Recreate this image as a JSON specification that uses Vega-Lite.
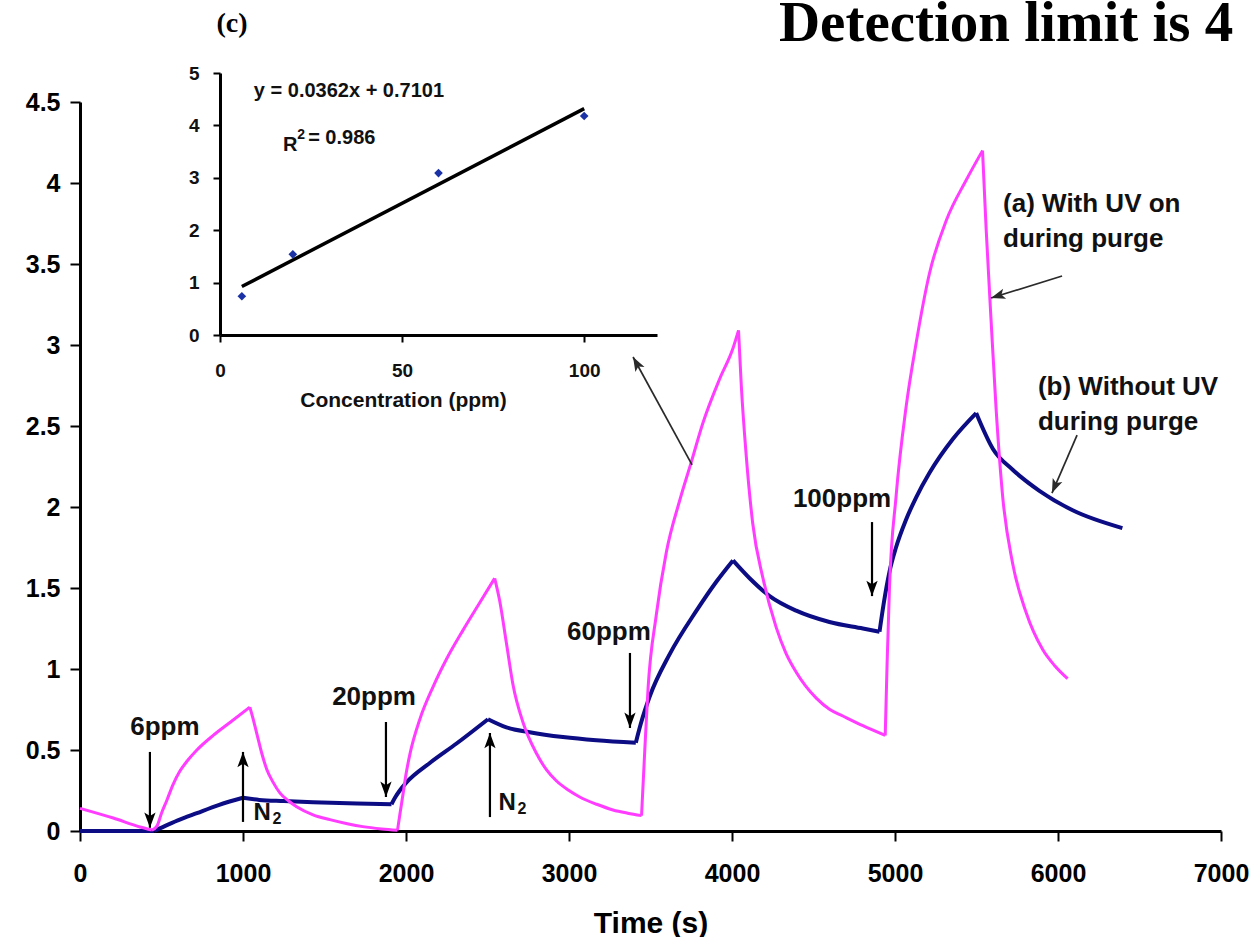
{
  "$schema": "https://vega.github.io/schema/vega-lite/v6.json",
  "width": 1141,
  "height": 729,
  "autosize": {"type": "none"},
  "padding": {"left": 80, "top": 102, "right": 39, "bottom": 106},
  "background": "white",
  "config": {"view": {"stroke": null}, "axis": {"grid": false}, "font": "Liberation Sans"},
  "datasets": {
    "curves": [
      {"series": "b", "seg": "b1", "t": 0, "v": 0}, {"series": "b", "seg": "b1", "t": 200, "v": 0}, {"series": "b", "seg": "b1", "t": 455, "v": 0},
      {"series": "b", "seg": "b2", "t": 455, "v": 0}, {"series": "b", "seg": "b2", "t": 520, "v": 0.03}, {"series": "b", "seg": "b2", "t": 600, "v": 0.065},
      {"series": "b", "seg": "b2", "t": 717, "v": 0.11}, {"series": "b", "seg": "b2", "t": 850, "v": 0.16}, {"series": "b", "seg": "b2", "t": 1000, "v": 0.205},
      {"series": "b", "seg": "b3", "t": 1000, "v": 0.205}, {"series": "b", "seg": "b3", "t": 1100, "v": 0.192}, {"series": "b", "seg": "b3", "t": 1250, "v": 0.185},
      {"series": "b", "seg": "b3", "t": 1430, "v": 0.178}, {"series": "b", "seg": "b3", "t": 1700, "v": 0.17}, {"series": "b", "seg": "b3", "t": 1911, "v": 0.165},
      {"series": "b", "seg": "b4", "t": 1911, "v": 0.165}, {"series": "b", "seg": "b4", "t": 1935, "v": 0.21}, {"series": "b", "seg": "b4", "t": 1962, "v": 0.25},
      {"series": "b", "seg": "b4", "t": 2003, "v": 0.3}, {"series": "b", "seg": "b4", "t": 2146, "v": 0.42}, {"series": "b", "seg": "b4", "t": 2310, "v": 0.54},
      {"series": "b", "seg": "b4", "t": 2503, "v": 0.69},
      {"series": "b", "seg": "b5", "t": 2503, "v": 0.69}, {"series": "b", "seg": "b5", "t": 2616, "v": 0.64}, {"series": "b", "seg": "b5", "t": 2759, "v": 0.61},
      {"series": "b", "seg": "b5", "t": 2963, "v": 0.58}, {"series": "b", "seg": "b5", "t": 3168, "v": 0.56}, {"series": "b", "seg": "b5", "t": 3410, "v": 0.545},
      {"series": "b", "seg": "b6", "t": 3410, "v": 0.545}, {"series": "b", "seg": "b6", "t": 3440, "v": 0.66}, {"series": "b", "seg": "b6", "t": 3495, "v": 0.83},
      {"series": "b", "seg": "b6", "t": 3617, "v": 1.09}, {"series": "b", "seg": "b6", "t": 3782, "v": 1.36}, {"series": "b", "seg": "b6", "t": 3905, "v": 1.54},
      {"series": "b", "seg": "b6", "t": 4006, "v": 1.67},
      {"series": "b", "seg": "b7", "t": 4006, "v": 1.67}, {"series": "b", "seg": "b7", "t": 4108, "v": 1.56}, {"series": "b", "seg": "b7", "t": 4231, "v": 1.45},
      {"series": "b", "seg": "b7", "t": 4394, "v": 1.36}, {"series": "b", "seg": "b7", "t": 4598, "v": 1.29}, {"series": "b", "seg": "b7", "t": 4803, "v": 1.25},
      {"series": "b", "seg": "b7", "t": 4905, "v": 1.23},
      {"series": "b", "seg": "b8", "t": 4905, "v": 1.23}, {"series": "b", "seg": "b8", "t": 4930, "v": 1.4}, {"series": "b", "seg": "b8", "t": 4966, "v": 1.6},
      {"series": "b", "seg": "b8", "t": 5006, "v": 1.75}, {"series": "b", "seg": "b8", "t": 5067, "v": 1.92}, {"series": "b", "seg": "b8", "t": 5130, "v": 2.06},
      {"series": "b", "seg": "b8", "t": 5211, "v": 2.21}, {"series": "b", "seg": "b8", "t": 5355, "v": 2.42}, {"series": "b", "seg": "b8", "t": 5498, "v": 2.58},
      {"series": "b", "seg": "b9", "t": 5498, "v": 2.58}, {"series": "b", "seg": "b9", "t": 5600, "v": 2.36}, {"series": "b", "seg": "b9", "t": 5722, "v": 2.23},
      {"series": "b", "seg": "b9", "t": 5886, "v": 2.1}, {"series": "b", "seg": "b9", "t": 6090, "v": 1.98}, {"series": "b", "seg": "b9", "t": 6395, "v": 1.87},
      {"series": "a", "seg": "a1", "t": 0, "v": 0.14}, {"series": "a", "seg": "a1", "t": 204, "v": 0.08}, {"series": "a", "seg": "a1", "t": 368, "v": 0.025},
      {"series": "a", "seg": "a1", "t": 441, "v": 0.006},
      {"series": "a", "seg": "a2", "t": 441, "v": 0.006}, {"series": "a", "seg": "a2", "t": 472, "v": 0.03}, {"series": "a", "seg": "a2", "t": 500, "v": 0.11},
      {"series": "a", "seg": "a2", "t": 533, "v": 0.19}, {"series": "a", "seg": "a2", "t": 570, "v": 0.285}, {"series": "a", "seg": "a2", "t": 613, "v": 0.37},
      {"series": "a", "seg": "a2", "t": 660, "v": 0.435}, {"series": "a", "seg": "a2", "t": 717, "v": 0.5}, {"series": "a", "seg": "a2", "t": 817, "v": 0.59},
      {"series": "a", "seg": "a2", "t": 920, "v": 0.67}, {"series": "a", "seg": "a2", "t": 1042, "v": 0.765},
      {"series": "a", "seg": "a3", "t": 1042, "v": 0.765}, {"series": "a", "seg": "a3", "t": 1060, "v": 0.7}, {"series": "a", "seg": "a3", "t": 1085, "v": 0.6},
      {"series": "a", "seg": "a3", "t": 1115, "v": 0.48}, {"series": "a", "seg": "a3", "t": 1146, "v": 0.38}, {"series": "a", "seg": "a3", "t": 1185, "v": 0.3},
      {"series": "a", "seg": "a3", "t": 1226, "v": 0.235}, {"series": "a", "seg": "a3", "t": 1280, "v": 0.185}, {"series": "a", "seg": "a3", "t": 1329, "v": 0.15},
      {"series": "a", "seg": "a3", "t": 1430, "v": 0.1}, {"series": "a", "seg": "a3", "t": 1533, "v": 0.07}, {"series": "a", "seg": "a3", "t": 1640, "v": 0.045},
      {"series": "a", "seg": "a3", "t": 1735, "v": 0.027}, {"series": "a", "seg": "a3", "t": 1850, "v": 0.013}, {"series": "a", "seg": "a3", "t": 1948, "v": 0.005},
      {"series": "a", "seg": "a4", "t": 1948, "v": 0.005}, {"series": "a", "seg": "a4", "t": 1962, "v": 0.1}, {"series": "a", "seg": "a4", "t": 1982, "v": 0.23},
      {"series": "a", "seg": "a4", "t": 2000, "v": 0.35}, {"series": "a", "seg": "a4", "t": 2023, "v": 0.47}, {"series": "a", "seg": "a4", "t": 2085, "v": 0.69},
      {"series": "a", "seg": "a4", "t": 2166, "v": 0.89}, {"series": "a", "seg": "a4", "t": 2248, "v": 1.06}, {"series": "a", "seg": "a4", "t": 2350, "v": 1.24},
      {"series": "a", "seg": "a4", "t": 2453, "v": 1.41}, {"series": "a", "seg": "a4", "t": 2544, "v": 1.56},
      {"series": "a", "seg": "a5", "t": 2544, "v": 1.56}, {"series": "a", "seg": "a5", "t": 2575, "v": 1.42}, {"series": "a", "seg": "a5", "t": 2616, "v": 1.16},
      {"series": "a", "seg": "a5", "t": 2657, "v": 0.9}, {"series": "a", "seg": "a5", "t": 2718, "v": 0.67}, {"series": "a", "seg": "a5", "t": 2800, "v": 0.48},
      {"series": "a", "seg": "a5", "t": 2860, "v": 0.38}, {"series": "a", "seg": "a5", "t": 2922, "v": 0.31}, {"series": "a", "seg": "a5", "t": 3000, "v": 0.25},
      {"series": "a", "seg": "a5", "t": 3066, "v": 0.21}, {"series": "a", "seg": "a5", "t": 3170, "v": 0.165}, {"series": "a", "seg": "a5", "t": 3270, "v": 0.13},
      {"series": "a", "seg": "a5", "t": 3360, "v": 0.11}, {"series": "a", "seg": "a5", "t": 3445, "v": 0.095},
      {"series": "a", "seg": "a6", "t": 3445, "v": 0.095}, {"series": "a", "seg": "a6", "t": 3465, "v": 0.5}, {"series": "a", "seg": "a6", "t": 3485, "v": 0.88},
      {"series": "a", "seg": "a6", "t": 3535, "v": 1.33}, {"series": "a", "seg": "a6", "t": 3597, "v": 1.72}, {"series": "a", "seg": "a6", "t": 3679, "v": 2.04},
      {"series": "a", "seg": "a6", "t": 3751, "v": 2.28}, {"series": "a", "seg": "a6", "t": 3822, "v": 2.52}, {"series": "a", "seg": "a6", "t": 3924, "v": 2.79},
      {"series": "a", "seg": "a6", "t": 4006, "v": 2.98}, {"series": "a", "seg": "a6", "t": 4040, "v": 3.09},
      {"series": "a", "seg": "a7", "t": 4040, "v": 3.09}, {"series": "a", "seg": "a7", "t": 4057, "v": 2.75}, {"series": "a", "seg": "a7", "t": 4087, "v": 2.32},
      {"series": "a", "seg": "a7", "t": 4127, "v": 1.9}, {"series": "a", "seg": "a7", "t": 4190, "v": 1.56}, {"series": "a", "seg": "a7", "t": 4270, "v": 1.26},
      {"series": "a", "seg": "a7", "t": 4330, "v": 1.1}, {"series": "a", "seg": "a7", "t": 4394, "v": 0.98}, {"series": "a", "seg": "a7", "t": 4517, "v": 0.82},
      {"series": "a", "seg": "a7", "t": 4600, "v": 0.75}, {"series": "a", "seg": "a7", "t": 4680, "v": 0.71}, {"series": "a", "seg": "a7", "t": 4803, "v": 0.65},
      {"series": "a", "seg": "a7", "t": 4940, "v": 0.59},
      {"series": "a", "seg": "a8", "t": 4940, "v": 0.59}, {"series": "a", "seg": "a8", "t": 4952, "v": 1.05}, {"series": "a", "seg": "a8", "t": 4966, "v": 1.5},
      {"series": "a", "seg": "a8", "t": 5006, "v": 2.06}, {"series": "a", "seg": "a8", "t": 5067, "v": 2.61}, {"series": "a", "seg": "a8", "t": 5131, "v": 3.02},
      {"series": "a", "seg": "a8", "t": 5211, "v": 3.44}, {"series": "a", "seg": "a8", "t": 5315, "v": 3.77}, {"series": "a", "seg": "a8", "t": 5438, "v": 4.02},
      {"series": "a", "seg": "a8", "t": 5537, "v": 4.2},
      {"series": "a", "seg": "a9", "t": 5537, "v": 4.2}, {"series": "a", "seg": "a9", "t": 5559, "v": 3.72}, {"series": "a", "seg": "a9", "t": 5589, "v": 3.16},
      {"series": "a", "seg": "a9", "t": 5620, "v": 2.61}, {"series": "a", "seg": "a9", "t": 5661, "v": 2.06}, {"series": "a", "seg": "a9", "t": 5722, "v": 1.65},
      {"series": "a", "seg": "a9", "t": 5804, "v": 1.35}, {"series": "a", "seg": "a9", "t": 5906, "v": 1.12}, {"series": "a", "seg": "a9", "t": 5980, "v": 1.02},
      {"series": "a", "seg": "a9", "t": 6059, "v": 0.94}
    ],
    "arrows": [
      {"kind": "v", "dir": "down", "t": 429, "v": 0.488, "t2": 429, "v2": 0.02},
      {"kind": "v", "dir": "up", "t": 1000, "v": 0.056, "t2": 1000, "v2": 0.488},
      {"kind": "v", "dir": "down", "t": 1877, "v": 0.673, "t2": 1877, "v2": 0.21},
      {"kind": "v", "dir": "up", "t": 2515, "v": 0.086, "t2": 2515, "v2": 0.605},
      {"kind": "v", "dir": "down", "t": 3374, "v": 1.099, "t2": 3374, "v2": 0.636},
      {"kind": "v", "dir": "down", "t": 4859, "v": 1.907, "t2": 4859, "v2": 1.45},
      {"kind": "d", "dir": "inset", "t": 3755, "v": 2.26, "t2": 3393, "v2": 2.926},
      {"kind": "d", "dir": "a", "t": 6025, "v": 3.426, "t2": 5589, "v2": 3.29},
      {"kind": "d", "dir": "b", "t": 6117, "v": 2.444, "t2": 5963, "v2": 2.086}
    ],
    "labels": [
      {"kind": "ppm", "t": 521, "v": 0.593, "label": "6ppm"},
      {"kind": "ppm", "t": 1804, "v": 0.778, "label": "20ppm"},
      {"kind": "ppm", "t": 3245, "v": 1.179, "label": "60ppm"},
      {"kind": "ppm", "t": 4675, "v": 2.0, "label": "100ppm"},
      {"kind": "N", "t": 1117, "v": 0.068, "label": "N"},
      {"kind": "sub", "t": 1209, "v": 0.043, "label": "2"},
      {"kind": "N", "t": 2620, "v": 0.13, "label": "N"},
      {"kind": "sub", "t": 2712, "v": 0.105, "label": "2"},
      {"kind": "ab", "t": 5663, "v": 3.821, "label": "(a) With UV on\nduring purge"},
      {"kind": "ab", "t": 5877, "v": 2.691, "label": "(b) Without UV\nduring purge"},
      {"kind": "title", "t": 4288, "v": 4.877, "label": "Detection limit is 4"},
      {"kind": "c", "t": 933, "v": 4.93, "label": "(c)"}
    ],
    "inset": [
      {"conc": 6, "resp": 0.74},
      {"conc": 20, "resp": 1.54},
      {"conc": 60, "resp": 3.09},
      {"conc": 100, "resp": 4.18}
    ],
    "insettext": [
      {"kind": "eq", "conc": 9.3, "resp": 4.54, "label": "y = 0.0362x + 0.7101"},
      {"kind": "R", "conc": 17.3, "resp": 3.52, "label": "R"},
      {"kind": "sup", "conc": 21.2, "resp": 3.74, "label": "2"},
      {"kind": "r2", "conc": 24.2, "resp": 3.64, "label": "= 0.986"}
    ]
  },
  "layer": [
    {
      "layer": [
        {
          "data": {"name": "curves"},
          "transform": [{"filter": "datum.series === 'b'"}],
          "mark": {"type": "line", "color": "#0c0c84", "strokeWidth": 4, "strokeJoin": "round", "interpolate": "monotone"},
          "encoding": {
            "detail": {"field": "seg"},
            "x": {"field": "t", "type": "quantitative",
              "scale": {"domain": [0, 7000], "nice": false, "zero": false},
              "axis": {"orient": "bottom", "values": [0, 1000, 2000, 3000, 4000, 5000, 6000, 7000], "format": "d",
                "title": "Time (s)", "titleFont": "Liberation Sans", "titleFontSize": 30, "titleFontWeight": "bold", "titleColor": "black",
                "titleY": 101, "titleBaseline": "alphabetic",
                "labelFont": "Liberation Sans", "labelFontSize": 25, "labelFontWeight": "bold", "labelColor": "black", "labelPadding": 20,
                "labelFlush": false, "labelOverlap": false,
                "tickSize": 10, "tickWidth": 2, "tickColor": "black", "domainColor": "black", "domainWidth": 3}},
            "y": {"field": "v", "type": "quantitative",
              "scale": {"domain": [0, 4.5], "nice": false, "zero": false},
              "axis": {"orient": "left", "values": [0, 0.5, 1, 1.5, 2, 2.5, 3, 3.5, 4, 4.5], "format": "~g", "title": null,
                "labelFont": "Liberation Sans", "labelFontSize": 25, "labelFontWeight": "bold", "labelColor": "black", "labelPadding": 10,
                "labelFlush": false, "labelOverlap": false,
                "tickSize": 10, "tickWidth": 2, "tickColor": "black", "domainColor": "black", "domainWidth": 3}}
          }
        },
        {
          "data": {"name": "curves"},
          "transform": [{"filter": "datum.series === 'a'"}],
          "mark": {"type": "line", "color": "#ff3cff", "strokeWidth": 3, "strokeJoin": "round", "interpolate": "monotone"},
          "encoding": {
            "detail": {"field": "seg"},
            "x": {"field": "t", "type": "quantitative"},
            "y": {"field": "v", "type": "quantitative"}
          }
        },
        {
          "data": {"name": "arrows"},
          "transform": [{"filter": "datum.kind === 'v'"}],
          "mark": {"type": "rule", "color": "black", "strokeWidth": 2.2},
          "encoding": {
            "x": {"field": "t", "type": "quantitative"},
            "y": {"field": "v", "type": "quantitative"},
            "x2": {"field": "t2"},
            "y2": {"field": "v2"}
          }
        },
        {
          "data": {"name": "arrows"},
          "transform": [{"filter": "datum.kind === 'd'"}],
          "mark": {"type": "rule", "color": "#2a2a2a", "strokeWidth": 1.7},
          "encoding": {
            "x": {"field": "t", "type": "quantitative"},
            "y": {"field": "v", "type": "quantitative"},
            "x2": {"field": "t2"},
            "y2": {"field": "v2"}
          }
        },
        {
          "data": {"name": "arrows"},
          "transform": [{"filter": "datum.dir === 'down'"}],
          "mark": {"type": "point", "shape": "M0,0L0.55,1.5L0,1.15L-0.55,1.5Z", "filled": true, "color": "black", "opacity": 1, "size": 420, "angle": 180},
          "encoding": {"x": {"field": "t2", "type": "quantitative"}, "y": {"field": "v2", "type": "quantitative"}}
        },
        {
          "data": {"name": "arrows"},
          "transform": [{"filter": "datum.dir === 'up'"}],
          "mark": {"type": "point", "shape": "M0,0L0.55,1.5L0,1.15L-0.55,1.5Z", "filled": true, "color": "black", "opacity": 1, "size": 420, "angle": 0},
          "encoding": {"x": {"field": "t2", "type": "quantitative"}, "y": {"field": "v2", "type": "quantitative"}}
        },
        {
          "data": {"name": "arrows"},
          "transform": [{"filter": "datum.dir === 'inset'"}],
          "mark": {"type": "point", "shape": "M0,0L0.55,1.5L0,1.15L-0.55,1.5Z", "filled": true, "color": "#2a2a2a", "opacity": 1, "size": 360, "angle": 331},
          "encoding": {"x": {"field": "t2", "type": "quantitative"}, "y": {"field": "v2", "type": "quantitative"}}
        },
        {
          "data": {"name": "arrows"},
          "transform": [{"filter": "datum.dir === 'a'"}],
          "mark": {"type": "point", "shape": "M0,0L0.55,1.5L0,1.15L-0.55,1.5Z", "filled": true, "color": "#2a2a2a", "opacity": 1, "size": 360, "angle": 253},
          "encoding": {"x": {"field": "t2", "type": "quantitative"}, "y": {"field": "v2", "type": "quantitative"}}
        },
        {
          "data": {"name": "arrows"},
          "transform": [{"filter": "datum.dir === 'b'"}],
          "mark": {"type": "point", "shape": "M0,0L0.55,1.5L0,1.15L-0.55,1.5Z", "filled": true, "color": "#2a2a2a", "opacity": 1, "size": 360, "angle": 203},
          "encoding": {"x": {"field": "t2", "type": "quantitative"}, "y": {"field": "v2", "type": "quantitative"}}
        },
        {
          "data": {"name": "labels"},
          "transform": [{"filter": "datum.kind === 'ppm'"}],
          "mark": {"type": "text", "font": "Liberation Sans", "fontWeight": "bold", "fontSize": 26, "align": "center", "baseline": "alphabetic", "color": "#111"},
          "encoding": {"x": {"field": "t", "type": "quantitative"}, "y": {"field": "v", "type": "quantitative"}, "text": {"field": "label"}}
        },
        {
          "data": {"name": "labels"},
          "transform": [{"filter": "datum.kind === 'N'"}],
          "mark": {"type": "text", "font": "Liberation Sans", "fontWeight": "bold", "fontSize": 24, "align": "center", "baseline": "alphabetic", "color": "#111"},
          "encoding": {"x": {"field": "t", "type": "quantitative"}, "y": {"field": "v", "type": "quantitative"}, "text": {"field": "label"}}
        },
        {
          "data": {"name": "labels"},
          "transform": [{"filter": "datum.kind === 'sub'"}],
          "mark": {"type": "text", "font": "Liberation Sans", "fontWeight": "bold", "fontSize": 16, "align": "center", "baseline": "alphabetic", "color": "#111"},
          "encoding": {"x": {"field": "t", "type": "quantitative"}, "y": {"field": "v", "type": "quantitative"}, "text": {"field": "label"}}
        },
        {
          "data": {"name": "labels"},
          "transform": [{"filter": "datum.kind === 'ab'"}],
          "mark": {"type": "text", "font": "Liberation Sans", "fontWeight": "bold", "fontSize": 26, "align": "left", "baseline": "alphabetic", "lineBreak": "\n", "lineHeight": 35, "color": "#111"},
          "encoding": {"x": {"field": "t", "type": "quantitative"}, "y": {"field": "v", "type": "quantitative"}, "text": {"field": "label"}}
        },
        {
          "data": {"name": "labels"},
          "transform": [{"filter": "datum.kind === 'title'"}],
          "mark": {"type": "text", "font": "Liberation Serif", "fontWeight": "bold", "fontSize": 57, "align": "left", "baseline": "alphabetic", "color": "black"},
          "encoding": {"x": {"field": "t", "type": "quantitative"}, "y": {"field": "v", "type": "quantitative"}, "text": {"field": "label"}}
        },
        {
          "data": {"name": "labels"},
          "transform": [{"filter": "datum.kind === 'c'"}],
          "mark": {"type": "text", "font": "Liberation Serif", "fontWeight": "bold", "fontSize": 28, "align": "center", "baseline": "alphabetic", "color": "black"},
          "encoding": {"x": {"field": "t", "type": "quantitative"}, "y": {"field": "v", "type": "quantitative"}, "text": {"field": "label"}}
        }
      ]
    },
    {
      "layer": [
        {
          "data": {"name": "inset"},
          "transform": [{"regression": "resp", "on": "conc"}],
          "mark": {"type": "line", "color": "black", "strokeWidth": 3.5},
          "encoding": {
            "x": {"field": "conc", "type": "quantitative",
              "scale": {"domain": [0, 120], "range": [140, 577], "nice": false, "zero": false},
              "axis": {"orient": "bottom", "offset": -496, "values": [0, 50, 100], "format": "d",
                "title": "Concentration (ppm)", "titleFont": "Liberation Sans", "titleFontSize": 21, "titleFontWeight": "bold", "titleColor": "#111",
                "titleX": 323, "titleY": 71, "titleBaseline": "alphabetic",
                "labelFont": "Liberation Sans", "labelFontSize": 19, "labelFontWeight": "bold", "labelColor": "#111", "labelPadding": 19,
                "labelFlush": false, "labelOverlap": false,
                "tickSize": 7, "tickWidth": 2, "tickColor": "black", "domainColor": "black", "domainWidth": 3}},
            "y": {"field": "resp", "type": "quantitative",
              "scale": {"domain": [0, 5], "range": [233, -29], "nice": false, "zero": false},
              "axis": {"orient": "left", "offset": -140, "values": [0, 1, 2, 3, 4, 5], "format": "d", "title": null,
                "labelFont": "Liberation Sans", "labelFontSize": 19, "labelFontWeight": "bold", "labelColor": "#111", "labelPadding": 14,
                "labelFlush": false, "labelOverlap": false,
                "tickSize": 7, "tickWidth": 2, "tickColor": "black", "domainColor": "black", "domainWidth": 3}}
          }
        },
        {
          "data": {"name": "inset"},
          "mark": {"type": "point", "shape": "diamond", "filled": true, "color": "#1a32a6", "opacity": 1, "size": 75},
          "encoding": {
            "x": {"field": "conc", "type": "quantitative"},
            "y": {"field": "resp", "type": "quantitative"}
          }
        },
        {
          "data": {"name": "insettext"},
          "transform": [{"filter": "datum.kind !== 'sup'"}],
          "mark": {"type": "text", "font": "Liberation Sans", "fontWeight": "bold", "fontSize": 20, "align": "left", "baseline": "alphabetic", "color": "#111"},
          "encoding": {"x": {"field": "conc", "type": "quantitative"}, "y": {"field": "resp", "type": "quantitative"}, "text": {"field": "label"}}
        },
        {
          "data": {"name": "insettext"},
          "transform": [{"filter": "datum.kind === 'sup'"}],
          "mark": {"type": "text", "font": "Liberation Sans", "fontWeight": "bold", "fontSize": 14, "align": "left", "baseline": "alphabetic", "color": "#111"},
          "encoding": {"x": {"field": "conc", "type": "quantitative"}, "y": {"field": "resp", "type": "quantitative"}, "text": {"field": "label"}}
        }
      ]
    }
  ],
  "resolve": {"scale": {"x": "independent", "y": "independent"}, "axis": {"x": "independent", "y": "independent"}}
}
